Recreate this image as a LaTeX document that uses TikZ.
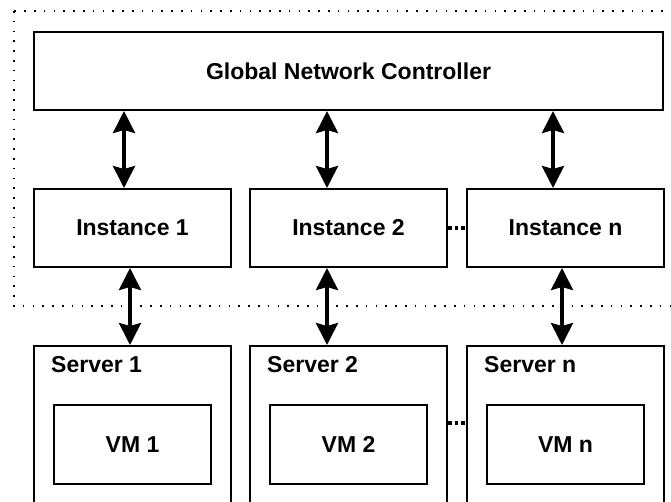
\documentclass[tikz,border=0pt]{standalone}
\usepackage{fontspec}
\setmainfont{Liberation Sans}
\usetikzlibrary{arrows.meta}

\begin{document}
\begin{tikzpicture}[x=1pt,y=-1pt,
  box/.style={draw,line width=2pt,inner sep=0pt,anchor=north west,
    font=\fontsize{23}{28}\selectfont\bfseries},
  biarrow/.style={line width=3.5pt,
    {Stealth[length=22pt,width=22pt,inset=3pt]}-{Stealth[length=22pt,width=22pt,inset=3pt]}},
  gap/.style={line width=3.5pt,dash pattern=on 3.5pt off 3pt},
  frame/.style={line width=1.6pt,dash pattern=on 1.6pt off 8.2pt}]

\useasboundingbox (0,0) rectangle (671,501);
\clip (0,0) rectangle (671,501);

\def\w {197} \def\h {78}

% controller part
\draw[frame] (14,11) rectangle (700,306);
\node[box,minimum width=629pt,minimum height=\h pt] (gnc) at (33,31)
  {Global Network Controller};

\foreach \i/\x in {1/33, 2/249, n/466}
{
 \node[box,minimum width=\w pt,minimum height=\h pt] (inst\i) at (\x,188)
   {Instance \i};
 \node[box,minimum width=\w pt,minimum height=200pt] (srv\i) at (\x,345) {};
 \node[font=\fontsize{23}{28}\selectfont\bfseries,inner sep=0pt,
   anchor=base west] (lab\i) at (\x+18,372) {Server \i};
 \node[box,minimum width=157pt,minimum height=79pt] (vm\i) at (\x+20,404)
   {VM \i};
}

% arrows, not centred on the boxes
\foreach \i/\ua/\la in {1/124/130, 2/327/327, n/553/562}
{
 \coordinate (u\i) at (\ua,0);
 \coordinate (l\i) at (\la,0);
 \draw[biarrow] (gnc.south -| u\i) -- (inst\i.north -| u\i);
 \draw[biarrow] (inst\i.south -| l\i) -- (srv\i.north -| l\i);
}

\coordinate (dots) at (0,423);
\draw[gap] (inst2.east) -- (instn.west);
\draw[gap] (srv2.east |- dots) -- (srvn.west |- dots);

\end{tikzpicture}
\end{document}
